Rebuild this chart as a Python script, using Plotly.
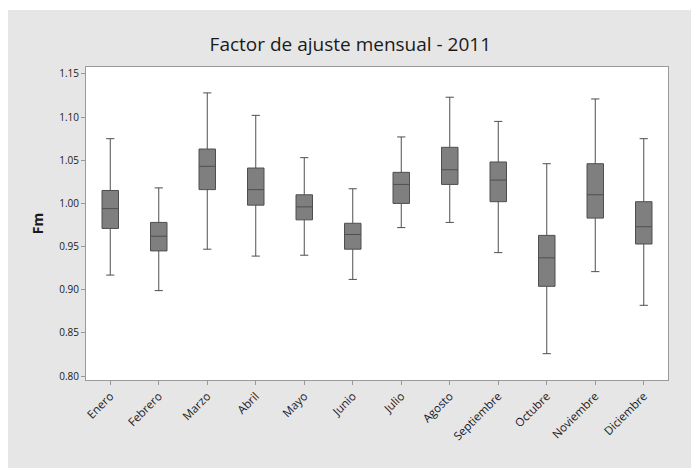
import plotly.graph_objects as go

# Monthly adjustment factor (Fm) summary statistics, 2011
months = ["Enero", "Febrero", "Marzo", "Abril", "Mayo", "Junio",
          "Julio", "Agosto", "Septiembre", "Octubre", "Noviembre", "Diciembre"]
upper_whisker = [1.075, 1.018, 1.128, 1.102, 1.053, 1.017, 1.077, 1.123, 1.095, 1.046, 1.121, 1.075]
q3 = [1.015, 0.978, 1.063, 1.041, 1.010, 0.977, 1.036, 1.065, 1.048, 0.963, 1.046, 1.002]
median = [0.994, 0.962, 1.043, 1.016, 0.996, 0.964, 1.022, 1.039, 1.027, 0.937, 1.010, 0.973]
q1 = [0.971, 0.945, 1.016, 0.998, 0.981, 0.947, 1.000, 1.022, 1.002, 0.904, 0.983, 0.953]
lower_whisker = [0.917, 0.899, 0.947, 0.939, 0.940, 0.912, 0.972, 0.978, 0.943, 0.826, 0.921, 0.882]

y_ticks = [0.80, 0.85, 0.90, 0.95, 1.00, 1.05, 1.10, 1.15]

W, H = 691, 468
ML, MR, MT, MB = 86, 23, 67, 88
PW, PH = W - ML - MR, H - MT - MB

fig = go.Figure()
fig.add_trace(go.Box(
    x=months,
    q1=q1, median=median, q3=q3,
    lowerfence=lower_whisker, upperfence=upper_whisker,
    width=0.34,
    fillcolor="#7f7f7f",
    line=dict(color="#4f4f4f", width=1),
    hoverinfo="skip",
    showlegend=False,
))

font_family = "Open Sans, Noto Sans, DejaVu Sans, sans-serif"

def px_x(p):
    return (p - ML) / PW

def px_y(p):
    return (H - MB - p) / PH

# white frame around the grey chart panel
shapes = [
    dict(type="rect", xref="paper", yref="paper",
         x0=px_x(0), x1=px_x(8), y0=px_y(H), y1=px_y(0),
         fillcolor="white", line=dict(width=0), layer="above"),
    dict(type="rect", xref="paper", yref="paper",
         x0=px_x(0), x1=px_x(W), y0=px_y(10), y1=px_y(0),
         fillcolor="white", line=dict(width=0), layer="above"),
]

fig.update_layout(
    width=W, height=H,
    margin=dict(l=ML, r=MR, t=MT, b=MB),
    paper_bgcolor="#e6e6e6",
    plot_bgcolor="white",
    font=dict(family=font_family, color="#1a1a1a"),
    title=dict(text="Factor de ajuste mensual - 2011",
               x=0.507, xanchor="center", y=1 - 44 / H, yanchor="middle",
               font=dict(size=19, color="#1a1a1a", family=font_family)),
    shapes=shapes,
    xaxis=dict(
        type="category",
        range=[-0.5, 11.5],
        tickangle=-45,
        tickfont=dict(size=11.5, color="#1a1a1a"),
        ticks="outside", ticklen=4, tickcolor="#999999",
        showline=True, linecolor="#9a9a9a", linewidth=1, mirror=True,
        showgrid=False, zeroline=False,
    ),
    yaxis=dict(
        range=[0.7955, 1.158],
        tickvals=y_ticks,
        ticktext=[f"{v:.2f}" for v in y_ticks],
        tickfont=dict(size=10, color="#1a1a1a"),
        ticks="outside", ticklen=4, tickcolor="#999999",
        showline=True, linecolor="#9a9a9a", linewidth=1, mirror=True,
        showgrid=False, zeroline=False,
        title=dict(text="<b>Fm</b>", font=dict(size=14, color="#1a1a1a"), standoff=12),
    ),
)

fig.write_html("out.html")
